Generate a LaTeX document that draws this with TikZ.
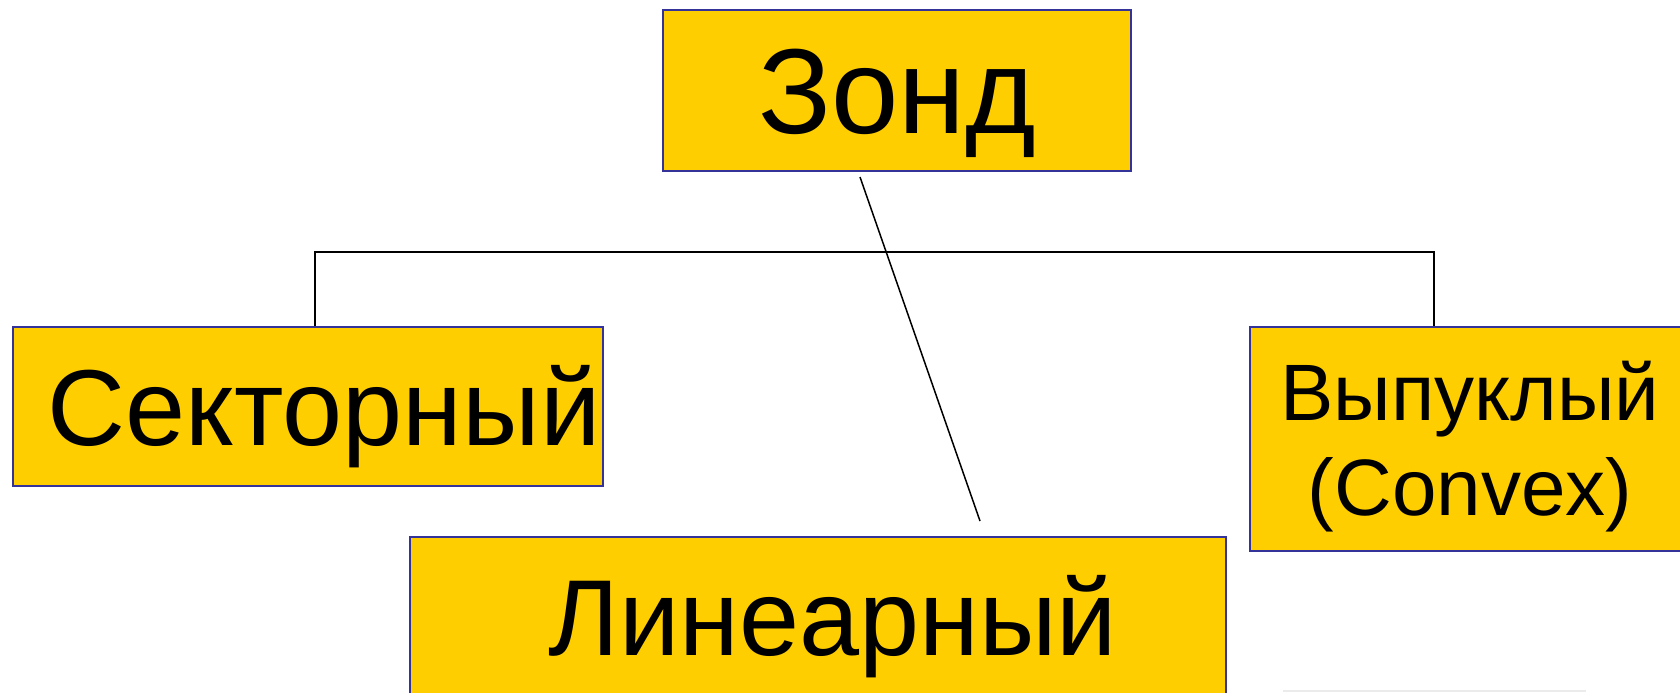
\documentclass[tikz,border=0pt]{standalone}
\usepackage{fontspec}
\setmainfont{Liberation Sans}
\definecolor{zondyellow}{HTML}{FFCE00}
\definecolor{zondblue}{HTML}{333399}
\tikzset{
  probe/.style={draw=zondblue, line width=0.75pt, fill=zondyellow, inner sep=0pt, text depth=0pt},
  wire/.style={line width=0.75pt}
}

\begin{document}
\begin{tikzpicture}[x=0.5pt,y=-0.5pt]
  \useasboundingbox (0,0) rectangle (1680,692);
  \node[probe, minimum width=234pt, minimum height=80.5pt, text height=43.3pt, font=\fontsize{60.5pt}{72pt}\selectfont] (zond) at (897,90.5) {Зонд};
  \node[probe, minimum width=295pt, minimum height=79.5pt, text height=38.7pt, font=\fontsize{54pt}{64pt}\selectfont] (sector) at (308,406.5) {\hspace*{16pt}Секторный};
  \node[probe, minimum width=408pt, minimum height=79.5pt, text height=38.7pt, font=\fontsize{54pt}{64pt}\selectfont] (linear) at (818,616.5) {\hspace*{15pt}Линеарный};
  \node[probe, minimum width=220pt, minimum height=112pt, text height=76.1pt, align=center, font=\fontsize{40pt}{47.5pt}\selectfont] (convex) at (1470,439) {Выпуклый\\(Convex)};
  \coordinate (lt) at (315,252);
  \coordinate (rt) at (1434,252);
  \draw[wire] (sector.north -| lt) -- (lt) -- (rt) -- (convex.north -| rt);
  \coordinate (dtop) at (860,177);
  \coordinate (dbot) at (980,521);
  \draw[wire] (dtop) -- (dbot);
  \draw[black!8, line width=1pt] (1283,691) -- (1586,691);
\end{tikzpicture}
\end{document}
